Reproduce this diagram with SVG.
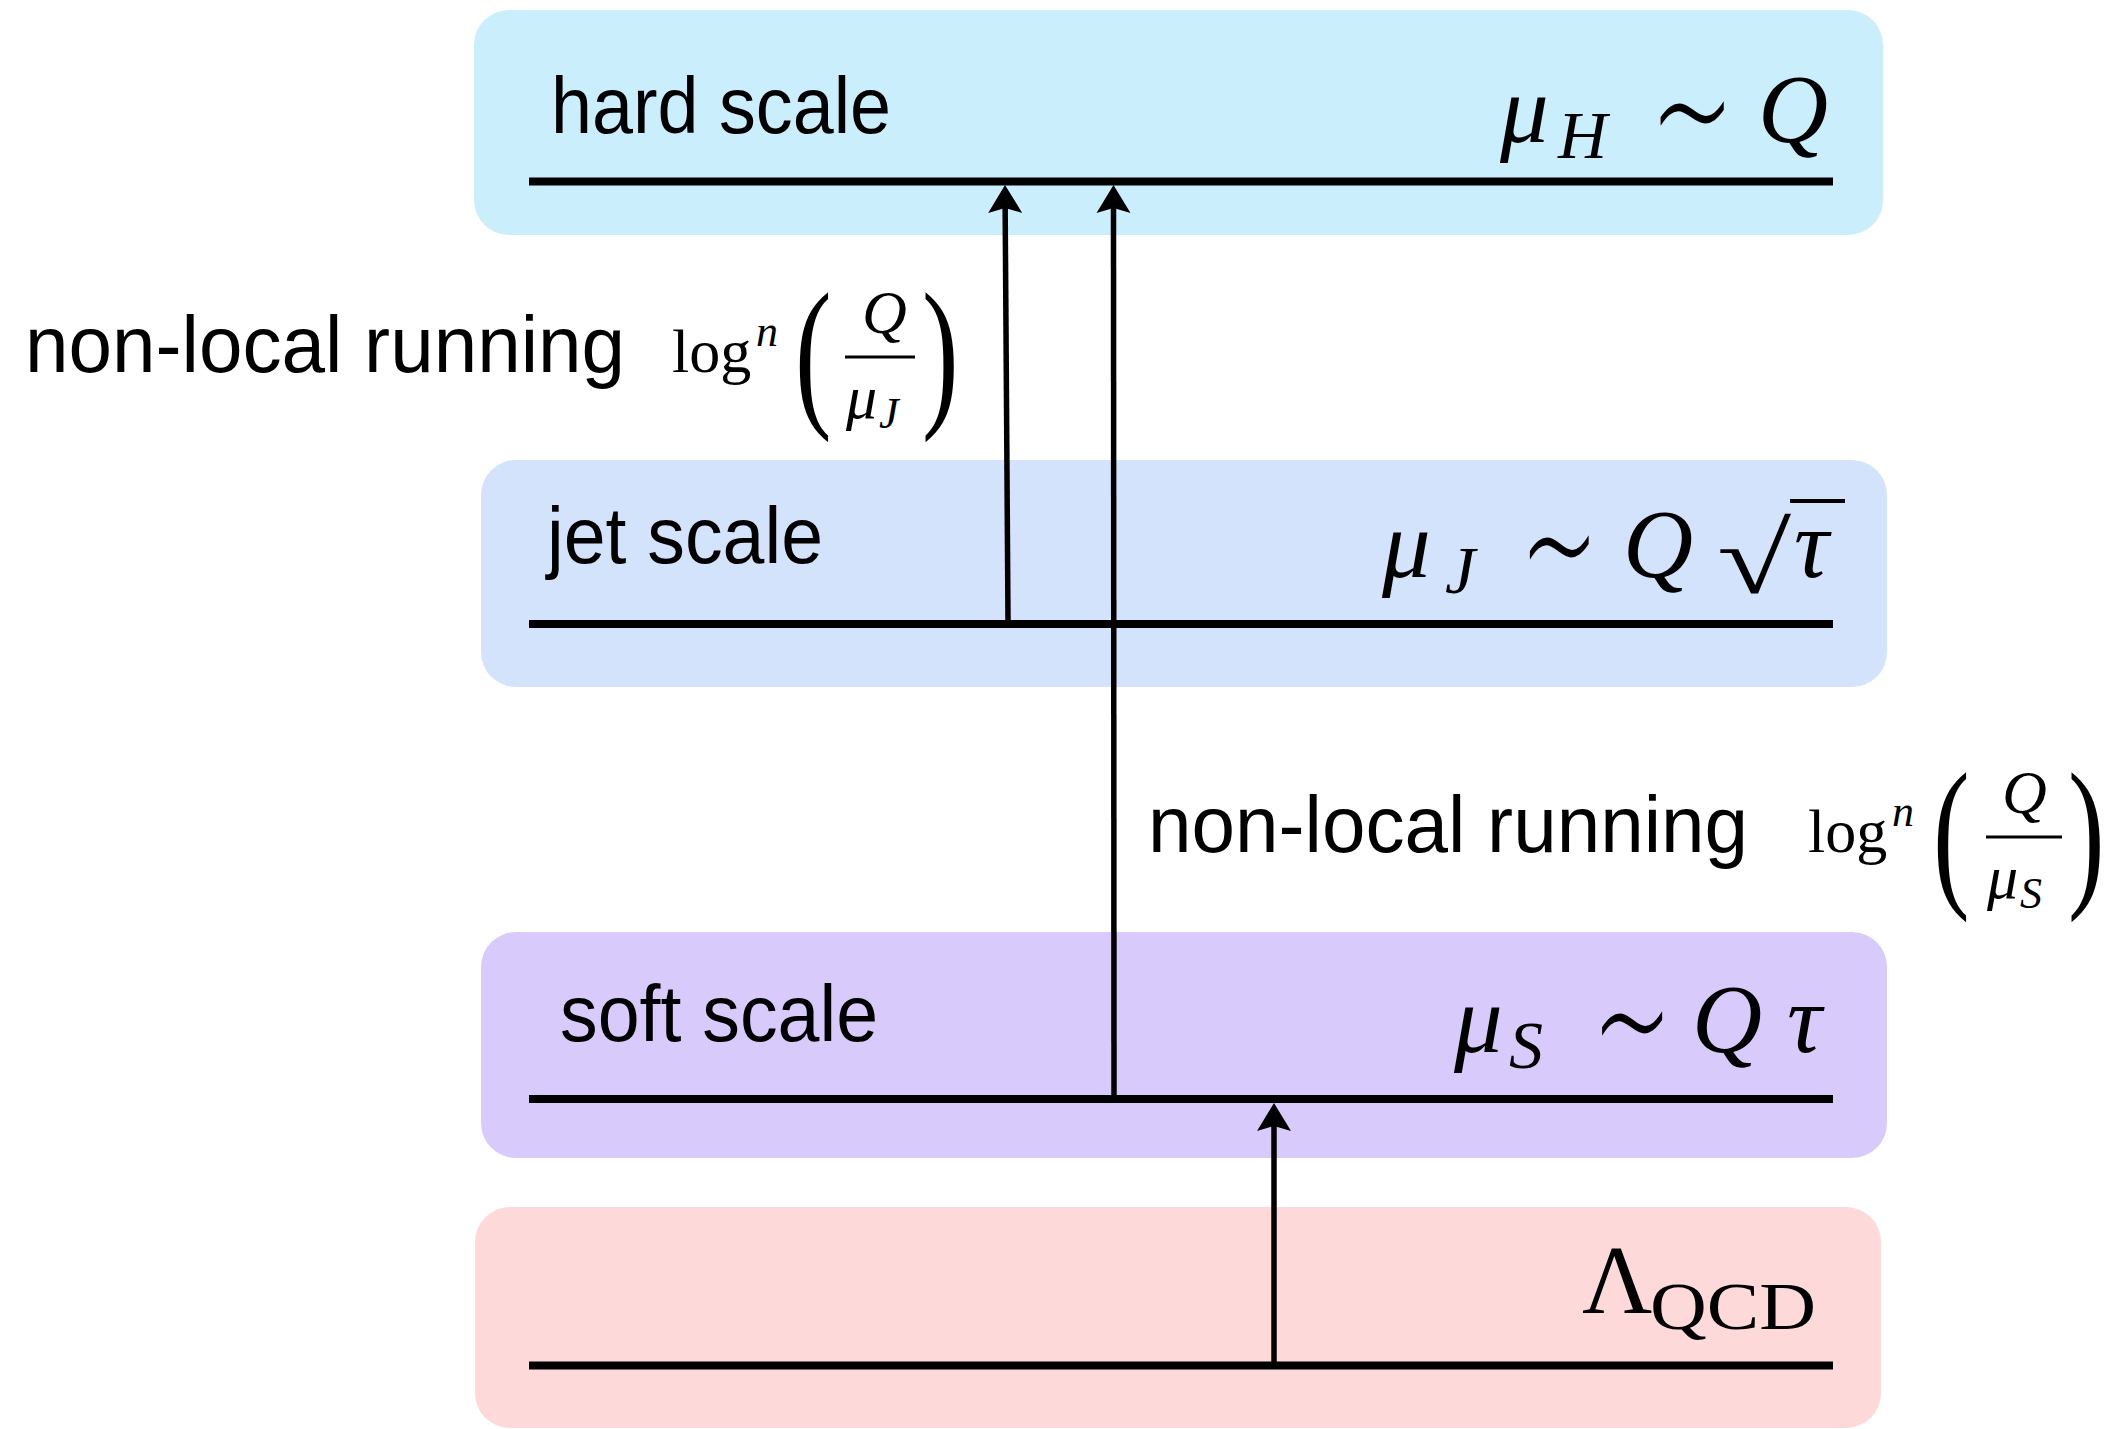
<svg xmlns="http://www.w3.org/2000/svg" width="2124" height="1429" viewBox="0 0 2124 1429">
<style>
.lbl{font-family:"Liberation Sans","Open Sans",sans-serif;font-size:80px;fill:#000}
.mi{font-family:"Liberation Serif","DejaVu Serif",serif;font-style:italic;fill:#000}
.mr{font-family:"Liberation Serif","DejaVu Serif",serif;fill:#000}
.sym{font-family:"DejaVu Sans","DejaVu Serif",sans-serif;font-weight:200;fill:#000;font-size:130px}
.lvl{stroke:#000;stroke-width:8}
.arr{stroke:#000;stroke-width:5.5;fill:none;marker-end:url(#ah)}
</style>
<defs>
<marker id="ah" markerUnits="userSpaceOnUse" markerWidth="40" markerHeight="40" viewBox="-10 -20 40 40" refX="0" refY="0" orient="auto">
<path d="M22,0 L-6,-17 L-1,0 L-6,17 Z" fill="#000"/>
</marker>
</defs>
<rect width="2124" height="1429" fill="#fff"/>

<g id="node-hard">
<rect x="474" y="10" width="1409" height="225" rx="35" ry="35" fill="#caeefc"/>
<line class="lvl" x1="529" y1="181.5" x2="1833" y2="181.5"/>
<text class="lbl" x="551" y="133" textLength="340" lengthAdjust="spacingAndGlyphs">hard scale</text>
<text class="mi" x="1500" y="142" font-size="97">μ</text>
<text class="mi" x="1558" y="158" font-size="68">H</text>
<text class="sym" transform="translate(1650,178) scale(1.02,1.42)">∼</text>
<text class="mi" x="1758" y="142" font-size="97">Q</text>
</g>

<g id="node-jet">
<rect x="481" y="460" width="1406" height="227" rx="35" ry="35" fill="#d4e3fc"/>
<line class="lvl" x1="529" y1="624" x2="1833" y2="624"/>
<text class="lbl" x="547" y="563" textLength="276" lengthAdjust="spacingAndGlyphs">jet scale</text>
<text class="mi" x="1382" y="577" font-size="97">μ</text>
<text class="mi" x="1445" y="593" font-size="68">J</text>
<text class="sym" transform="translate(1520,612) scale(0.95,1.42)">∼</text>
<text class="mi" x="1623" y="577" font-size="97">Q</text>
<text class="mr" transform="translate(1717,593) scale(1.35,1)" font-size="100">√</text>
<line x1="1790" y1="501" x2="1845" y2="501" stroke="#000" stroke-width="4"/>
<text class="mi" x="1794" y="577" font-size="97">τ</text>
</g>

<g id="node-soft">
<rect x="481" y="932" width="1406" height="226" rx="35" ry="35" fill="#d8cbfb"/>
<line class="lvl" x1="529" y1="1099" x2="1833" y2="1099"/>
<text class="lbl" x="560" y="1041" textLength="318" lengthAdjust="spacingAndGlyphs">soft scale</text>
<text class="mi" x="1454" y="1052" font-size="97">μ</text>
<text class="mi" x="1509" y="1068" font-size="68">S</text>
<text class="sym" transform="translate(1592,1088) scale(0.97,1.42)">∼</text>
<text class="mi" x="1692" y="1052" font-size="97">Q</text>
<text class="mi" x="1787" y="1052" font-size="97">τ</text>
</g>

<g id="node-qcd">
<rect x="475" y="1207" width="1406" height="221" rx="35" ry="35" fill="#fdd9d9"/>
<line class="lvl" x1="529" y1="1365.5" x2="1833" y2="1365.5"/>
<text class="mr" x="1582" y="1313" font-size="97">Λ</text>
<text class="mr" x="1650" y="1329" font-size="68" textLength="166" lengthAdjust="spacingAndGlyphs">QCD</text>
</g>

<g id="connectors">
<line class="arr" x1="1008" y1="620" x2="1005.15" y2="207"/>
<line class="arr" x1="1114" y1="1095" x2="1113.5" y2="207"/>
<line class="arr" x1="1274" y1="1362" x2="1274" y2="1125"/>
</g>

<g id="label-jet-hard">
<text class="lbl" x="25" y="372" font-size="81" textLength="600" lengthAdjust="spacingAndGlyphs">non-local running</text>
<text class="mr" x="672" y="372" font-size="62">log</text>
<text class="mi" x="756" y="346" font-size="44">n</text>
<text class="mr" transform="translate(795,407) scale(1.1,1.65)" font-size="100">(</text>
<text class="mi" x="862" y="333" font-size="62">Q</text>
<line x1="845" y1="357" x2="915" y2="357" stroke="#000" stroke-width="3"/>
<text class="mi" x="846" y="418" font-size="62">μ</text>
<text class="mi" x="879" y="428" font-size="44">J</text>
<text class="mr" transform="translate(922,407) scale(1.1,1.65)" font-size="100">)</text>
</g>

<g id="label-soft-jet">
<text class="lbl" x="1148" y="852" font-size="81" textLength="600" lengthAdjust="spacingAndGlyphs">non-local running</text>
<text class="mr" x="1808" y="852" font-size="62">log</text>
<text class="mi" x="1892" y="826" font-size="44">n</text>
<text class="mr" transform="translate(1933,887) scale(1.1,1.65)" font-size="100">(</text>
<text class="mi" x="2002" y="813" font-size="62">Q</text>
<line x1="1986" y1="837" x2="2062" y2="837" stroke="#000" stroke-width="3"/>
<text class="mi" x="1987" y="898" font-size="62">μ</text>
<text class="mi" x="2020" y="908" font-size="44">S</text>
<text class="mr" transform="translate(2068,887) scale(1.1,1.65)" font-size="100">)</text>
</g>
</svg>
